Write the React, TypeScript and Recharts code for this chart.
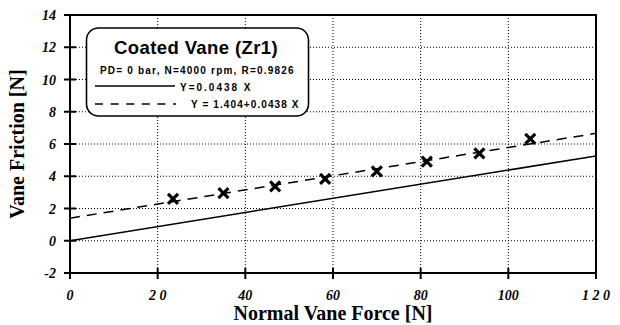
import React from "react";
import {
  ComposedChart,
  XAxis,
  YAxis,
  CartesianGrid,
  Line,
  Scatter,
  ReferenceArea,
  Label
} from "recharts";

// measured points (normal vane force vs vane friction)
const forceN = [23.5, 35, 46.8, 58.2, 70, 81.4, 93.4, 105];
const frictionN = [2.59, 2.96, 3.37, 3.83, 4.3, 4.9, 5.42, 6.32];

// fitted lines, end points
const fitThroughZero = [
  { x: 0, y: 0 },
  { x: 120, y: 5.26 }
];
const fitWithOffset = [
  { x: 0, y: 1.4 },
  { x: 120, y: 6.66 }
];

const xTicks = [0, 20, 40, 60, 80, 100, 120];
const xTickLabels = ["0", "2 0", "40", "60", "80", "100", "1 2 0"];
const yTicks = [-2, 0, 2, 4, 6, 8, 10, 12, 14];

const points = forceN.map((x, i) => ({ x, y: frictionN[i] }));

const SERIF = "'Liberation Serif', 'Times New Roman', serif";
const SANS = "'Liberation Sans', Arial, sans-serif";

const renderXTick = (props: any) => {
  const { x, y, payload } = props;
  const idx = xTicks.indexOf(payload.value);
  return (
    <g key={`xt-${payload.value}`}>
      <path d={`M${x},${y - 5}V${y + 6}`} stroke="#000" strokeWidth={2} />
      <text
        x={x}
        y={y + 27}
        textAnchor="middle"
        fontFamily={SERIF}
        fontStyle="italic"
        fontWeight="bold"
        fontSize={14}
        fill="#000"
      >
        {idx >= 0 ? xTickLabels[idx] : payload.value}
      </text>
    </g>
  );
};

const renderYTick = (props: any) => {
  const { x, y, payload } = props;
  return (
    <g key={`yt-${payload.value}`}>
      <path d={`M${x - 6},${y}H${x + 6}`} stroke="#000" strokeWidth={2} />
      <text
        x={x - 14}
        y={y + 5}
        textAnchor="end"
        fontFamily={SERIF}
        fontStyle="italic"
        fontWeight="bold"
        fontSize={14}
        fill="#000"
      >
        {payload.value}
      </text>
    </g>
  );
};

const renderRightTick = (props: any) => {
  const { x, y, payload } = props;
  return (
    <path
      key={`rt-${payload.value}`}
      d={`M${x - 6},${y}H${x}`}
      stroke="#000"
      strokeWidth={2}
    />
  );
};

function Cross(props: any) {
  const { cx, cy } = props;
  const s = 5;
  return (
    <g stroke="#000" strokeWidth={3.2}>
      <line x1={cx - s} y1={cy - s} x2={cx + s} y2={cy + s} />
      <line x1={cx - s} y1={cy + s} x2={cx + s} y2={cy - s} />
    </g>
  );
}

function LegendBox() {
  return (
    <svg
      width={226}
      height={92}
      style={{ position: "absolute", left: 85, top: 26 }}
    >
      <rect
        x={1.5}
        y={2}
        width={222}
        height={88}
        rx={12}
        ry={12}
        fill="#fff"
        stroke="#000"
        strokeWidth={1.6}
      />
      <text
        x={29}
        y={28}
        fontFamily={SANS}
        fontWeight="bold"
        fontSize={18.5}
        letterSpacing={0.4}
        fill="#000"
      >
        Coated Vane (Zr1)
      </text>
      <text
        x={15}
        y={48}
        fontFamily={SANS}
        fontWeight="bold"
        fontSize={10}
        letterSpacing={1.2}
        fill="#000"
      >
        PD= 0 bar, N=4000 rpm, R=0.9826
      </text>
      <line x1={10} x2={90} y1={60} y2={60} stroke="#000" strokeWidth={1.5} />
      <text
        x={95}
        y={65}
        fontFamily={SANS}
        fontWeight="bold"
        fontSize={10}
        letterSpacing={2}
        fill="#000"
      >
        Y=0.0438 X
      </text>
      <line
        x1={10}
        x2={91}
        y1={78}
        y2={78}
        stroke="#000"
        strokeWidth={1.5}
        strokeDasharray="8 7.6"
      />
      <text
        x={106}
        y={82}
        fontFamily={SANS}
        fontWeight="bold"
        fontSize={10}
        letterSpacing={1.1}
        fill="#000"
      >
        Y = 1.404+0.0438 X
      </text>
    </svg>
  );
}

export default function App() {
  return (
    <div
      style={{
        position: "absolute",
        left: 0,
        top: 0,
        width: 620,
        height: 325,
        background: "#fff"
      }}
    >
      <ComposedChart
        width={620}
        height={325}
        margin={{ top: 15, right: 0, left: 0, bottom: 0 }}
      >
        <CartesianGrid stroke="#000" strokeWidth={1} strokeDasharray="1 2" />
        <XAxis
          type="number"
          dataKey="x"
          domain={[0, 120]}
          ticks={xTicks}
          interval={0}
          height={52}
          tickSize={0}
          tickMargin={0}
          tickLine={false}
          axisLine={{ stroke: "#000", strokeWidth: 2 }}
          tick={renderXTick}
          allowDataOverflow
        >
          <Label
            value="Normal Vane Force [N]"
            position="insideBottom"
            offset={5}
            style={{
              fontFamily: SERIF,
              fontWeight: "bold",
              fontSize: 20,
              fill: "#000"
            }}
          />
        </XAxis>
        <YAxis
          type="number"
          domain={[-2, 14]}
          ticks={yTicks}
          interval={0}
          width={70}
          tickSize={0}
          tickMargin={0}
          tickLine={false}
          axisLine={{ stroke: "#000", strokeWidth: 2 }}
          tick={renderYTick}
          allowDataOverflow
        >
          <Label
            value="Vane Friction [N]"
            angle={-90}
            position="insideLeft"
            offset={17}
            style={{
              fontFamily: SERIF,
              fontWeight: "bold",
              fontSize: 20,
              fill: "#000",
              textAnchor: "middle"
            }}
          />
        </YAxis>
        <YAxis
          yAxisId="right"
          orientation="right"
          type="number"
          domain={[-2, 14]}
          ticks={yTicks}
          interval={0}
          width={24}
          tickSize={0}
          tickMargin={0}
          tickLine={false}
          axisLine={{ stroke: "#000", strokeWidth: 2 }}
          tick={renderRightTick}
        />
        <ReferenceArea
          x1={0}
          x2={120}
          y1={-2}
          y2={14}
          fill="none"
          fillOpacity={0}
          stroke="#000"
          strokeWidth={2}
        />
        <Line
          data={fitThroughZero}
          dataKey="y"
          type="linear"
          stroke="#000"
          strokeWidth={1.5}
          dot={false}
          isAnimationActive={false}
        />
        <Line
          data={fitWithOffset}
          dataKey="y"
          type="linear"
          stroke="#000"
          strokeWidth={1.5}
          strokeDasharray="10 7"
          dot={false}
          isAnimationActive={false}
        />
        <Scatter
          data={points}
          dataKey="y"
          shape={<Cross />}
          isAnimationActive={false}
        />
      </ComposedChart>
      <LegendBox />
    </div>
  );
}
